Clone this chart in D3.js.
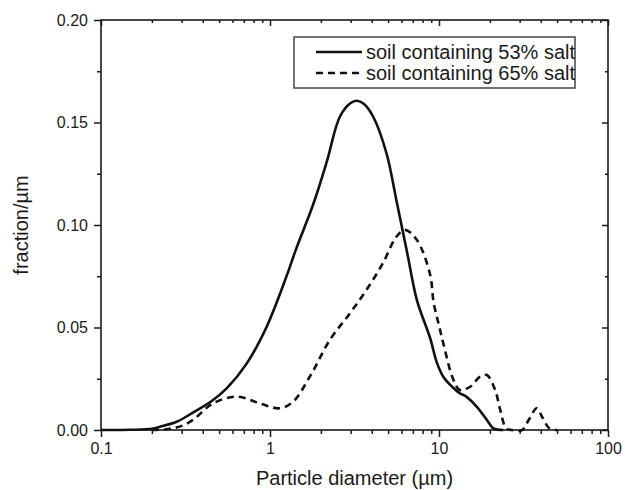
<!DOCTYPE html>
<html>
<head>
<meta charset="utf-8">
<script src="https://cdn.jsdelivr.net/npm/d3@7"></script>
<style>
  body { margin: 0; background: #fff; }
  svg { font-family: "Liberation Sans", Arial, sans-serif; }
</style>
</head>
<body>
<div id="chart"></div>
<script>
// particle size distribution
var sizes53 = [0.1, 0.15, 0.2, 0.2235, 0.28, 0.352, 0.45, 0.554, 0.729, 0.956, 1.25, 1.43, 1.8, 2.17, 2.59, 3.0, 3.27, 3.6, 4.08, 4.89, 5.6, 6.5, 7.4, 8.85, 9.7, 10.6, 12.0, 13.3, 14.5, 16.7, 19.2, 21, 24];
var frac53 = [0, 0.0001, 0.0006, 0.0016, 0.004, 0.0086, 0.014, 0.0203, 0.0325, 0.0504, 0.0748, 0.0885, 0.110, 0.131, 0.1528, 0.1595, 0.1606, 0.159, 0.1528, 0.135, 0.112, 0.086, 0.0634, 0.045, 0.033, 0.026, 0.021, 0.0179, 0.0163, 0.0114, 0.0049, 0.0008, 0];

var sizes65 = [0.2, 0.25, 0.3, 0.35, 0.46, 0.635, 0.87, 1.14, 1.37, 1.72, 2.26, 2.97, 3.72, 4.65, 5.6, 6.3, 7.4, 8.85, 9.3, 10.0, 10.7, 12.1, 13.3, 15.3, 17.5, 19.2, 21.5, 23, 25, 27, 31, 34, 37.9, 41, 45, 50];
var frac65 = [0, 0.0005, 0.002, 0.0049, 0.013, 0.0163, 0.013, 0.0106, 0.0138, 0.026, 0.0439, 0.0569, 0.0683, 0.0813, 0.0943, 0.0976, 0.0927, 0.076, 0.062, 0.051, 0.041, 0.025, 0.0195, 0.0211, 0.026, 0.0268, 0.0195, 0.01, 0.0008, 0, 0, 0.005, 0.0106, 0.006, 0.0008, 0];

var seriesNames = ['soil containing 53% salt', 'soil containing 65% salt'];
var yTicks = [0, 0.05, 0.10, 0.15, 0.20];
var xTicks = [0.1, 1, 10, 100];

var margin = {top: 20, right: 17, bottom: 60, left: 101};
var width = 625 - margin.left - margin.right,
	height = 490 - margin.top - margin.bottom;

var xScale = d3.scaleLog().domain([0.1, 100]).range([0, width]);
var yScale = d3.scaleLinear().domain([0, 0.2]).range([height, 0]);

// minor ticks 2..9 of each decade
var xMinor = [];
[0.1, 1, 10].forEach(function(dec) {
	for (var k = 2; k < 10; k++) xMinor.push(dec * k);
});
var yMinor = [0.025, 0.075, 0.125, 0.175];

var svg = d3.select('#chart').append('svg')
	.attr('width', 625)
	.attr('height', 490)
	.style('background', '#fff');

var g = svg.append('g')
	.attr('transform', 'translate(' + margin.left + ',' + margin.top + ')');

function styleAxis(sel) {
	sel.select('.domain').remove();
	sel.selectAll('line').attr('stroke', '#1a1a1a').attr('stroke-width', 1.5);
	sel.selectAll('text').attr('fill', '#1a1a1a').style('font-size', '16px');
}

// bottom axis (outward ticks)
g.append('g').attr('transform', 'translate(0,' + height + ')')
	.call(d3.axisBottom(xScale).tickValues(xMinor).tickSize(4).tickFormat(''))
	.call(styleAxis);
g.append('g').attr('transform', 'translate(0,' + height + ')')
	.call(d3.axisBottom(xScale).tickValues(xTicks).tickSize(7).tickPadding(6).tickFormat(d3.format('')))
	.call(styleAxis);

// top axis (inward ticks)
g.append('g')
	.call(d3.axisBottom(xScale).tickValues(xMinor).tickSize(3).tickFormat(''))
	.call(styleAxis);
g.append('g')
	.call(d3.axisBottom(xScale).tickValues(xTicks).tickSize(6).tickFormat(''))
	.call(styleAxis);

// left axis (outward ticks)
g.append('g')
	.call(d3.axisLeft(yScale).tickValues(yMinor).tickSize(4).tickFormat(''))
	.call(styleAxis);
g.append('g')
	.call(d3.axisLeft(yScale).tickValues(yTicks).tickSize(7).tickPadding(6).tickFormat(d3.format('.2f')))
	.call(styleAxis);

// right axis (inward ticks)
g.append('g').attr('transform', 'translate(' + width + ',0)')
	.call(d3.axisLeft(yScale).tickValues(yMinor).tickSize(3).tickFormat(''))
	.call(styleAxis);
g.append('g').attr('transform', 'translate(' + width + ',0)')
	.call(d3.axisLeft(yScale).tickValues(yTicks).tickSize(6).tickFormat(''))
	.call(styleAxis);

// frame
g.append('rect')
	.attr('width', width)
	.attr('height', height)
	.attr('fill', 'none')
	.attr('stroke', '#1a1a1a')
	.attr('stroke-width', 1.6);

var line = d3.line()
	.x(function(d) { return xScale(d[0]); })
	.y(function(d) { return Math.min(yScale(d[1]), height); })
	.curve(d3.curveCatmullRom.alpha(0.5));

g.append('path')
	.datum(d3.zip(sizes53, frac53))
	.attr('d', line)
	.attr('fill', 'none')
	.attr('stroke', '#111')
	.attr('stroke-width', 2.6);

g.append('path')
	.datum(d3.zip(sizes65, frac65))
	.attr('d', line)
	.attr('fill', 'none')
	.attr('stroke', '#111')
	.attr('stroke-width', 2.6)
	.attr('stroke-dasharray', '7,5');

// legend
var legend = svg.append('g').attr('transform', 'translate(294,37)');
legend.append('rect')
	.attr('width', 281)
	.attr('height', 51)
	.attr('fill', '#fff')
	.attr('stroke', '#444')
	.attr('stroke-width', 1.5);

seriesNames.forEach(function(name, i) {
	var yy = 15 + i * 21;
	legend.append('line')
		.attr('x1', 22).attr('x2', 68)
		.attr('y1', yy).attr('y2', yy)
		.attr('stroke', '#111')
		.attr('stroke-width', 2.6)
		.attr('stroke-dasharray', i === 1 ? '7,5' : null);
	legend.append('text')
		.attr('x', 72)
		.attr('y', yy + 7)
		.attr('fill', '#1a1a1a')
		.style('font-size', '20px')
		.text(name);
});

// axis titles
svg.append('text')
	.attr('x', margin.left + width / 2)
	.attr('y', 485)
	.attr('text-anchor', 'middle')
	.attr('fill', '#1a1a1a')
	.style('font-size', '20px')
	.text('Particle diameter (\u00b5m)');

svg.append('text')
	.attr('transform', 'translate(28,' + (margin.top + height / 2) + ') rotate(-90)')
	.attr('text-anchor', 'middle')
	.attr('fill', '#1a1a1a')
	.style('font-size', '20px')
	.text('fraction/\u00b5m');
</script>
</body>
</html>
